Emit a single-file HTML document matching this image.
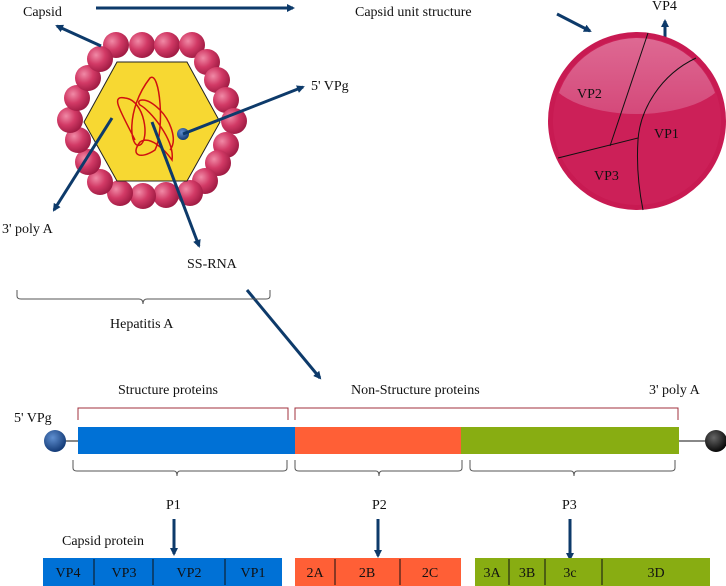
<!DOCTYPE html>
<html><head><meta charset="utf-8"><style>
html,body{margin:0;padding:0;background:#fff;width:726px;height:586px;overflow:hidden}
svg text{font-family:"Liberation Serif",serif;font-size:14px;fill:#111}
</style></head><body>
<svg width="726" height="586" viewBox="0 0 726 586" xmlns="http://www.w3.org/2000/svg">
<defs>
<marker id="ah" markerWidth="8" markerHeight="8" refX="6" refY="4" orient="auto" markerUnits="userSpaceOnUse"><path d="M0,0 L8,4 L0,8 Z" fill="#0d3a6a"/></marker>
<radialGradient id="ball" cx="0.35" cy="0.35" r="0.7"><stop offset="0" stop-color="#f08aa6"/><stop offset="0.5" stop-color="#d23a66"/><stop offset="1" stop-color="#9e1a42"/></radialGradient>
<radialGradient id="bb" cx="0.4" cy="0.35" r="0.7"><stop offset="0" stop-color="#5f8fd0"/><stop offset="1" stop-color="#0d3470"/></radialGradient>
<radialGradient id="kb" cx="0.4" cy="0.35" r="0.7"><stop offset="0" stop-color="#666"/><stop offset="1" stop-color="#000"/></radialGradient>
<linearGradient id="hl" x1="0" y1="0" x2="0" y2="1"><stop offset="0" stop-color="#e27aa0"/><stop offset="1" stop-color="#d65080"/></linearGradient>
<clipPath id="sc"><circle cx="637" cy="121" r="83"/></clipPath>
</defs>
<g fill="url(#ball)">
<circle cx="116" cy="45" r="13"/><circle cx="142" cy="45" r="13"/><circle cx="167" cy="45" r="13"/><circle cx="192" cy="45" r="13"/>
<circle cx="207" cy="62" r="13"/><circle cx="217" cy="80" r="13"/><circle cx="226" cy="100" r="13"/><circle cx="234" cy="121" r="13"/><circle cx="226" cy="145" r="13"/><circle cx="218" cy="163" r="13"/><circle cx="205" cy="181" r="13"/>
<circle cx="190" cy="193" r="13"/><circle cx="166" cy="195" r="13"/><circle cx="143" cy="196" r="13"/><circle cx="120" cy="193" r="13"/><circle cx="100" cy="182" r="13"/>
<circle cx="88" cy="162" r="13"/><circle cx="78" cy="140" r="13"/><circle cx="70" cy="120" r="13"/><circle cx="77" cy="98" r="13"/><circle cx="88" cy="78" r="13"/><circle cx="100" cy="59" r="13"/>
</g>
<polygon points="84,122 117,62 187,62 220,122 187,181 117,181" fill="#f7d832" stroke="#222" stroke-width="1"/>
<path d="M135,140 C120,110 110,95 125,98 C145,100 150,140 140,145 C130,150 125,110 150,78 C160,70 165,130 155,150 C140,160 130,155 140,142 C150,135 165,150 172,160 C175,140 150,110 140,105 C135,100 145,95 160,110 C170,120 178,140 170,150" fill="none" stroke="#d01010" stroke-width="1.5"/>
<circle cx="183" cy="134" r="6" fill="url(#bb)"/>
<g stroke="#0d3a6a" stroke-width="3" fill="none" marker-end="url(#ah)">
<line x1="96" y1="8" x2="293" y2="8"/>
<line x1="101" y1="46" x2="57" y2="26"/>
<line x1="183" y1="134" x2="303" y2="87"/>
<line x1="112" y1="118" x2="54" y2="210"/>
<line x1="152" y1="122" x2="199" y2="246"/>
<line x1="247" y1="290" x2="320" y2="378"/>
<line x1="557" y1="14" x2="590" y2="31"/>
<line x1="665" y1="54" x2="665" y2="21"/>
<line x1="174" y1="519" x2="174" y2="554"/>
<line x1="378" y1="519" x2="378" y2="556"/>
<line x1="570" y1="519" x2="570" y2="559"/>
</g>
<text x="23" y="16">Capsid</text>
<text x="355" y="16">Capsid unit structure</text>
<text x="311" y="90">5' VPg</text>
<text x="2" y="233">3' poly A</text>
<text x="187" y="268">SS-RNA</text>
<path d="M17,290 V296 Q17,299 21,299 H139 Q143,299 143,304 Q143,299 147,299 H266 Q270,299 270,296 V290" fill="none" stroke="#555" stroke-width="1"/>
<text x="110" y="328">Hepatitis A</text>
<!-- sphere -->
<circle cx="637" cy="121" r="89" fill="#c81a52"/>
<circle cx="637" cy="121" r="84" fill="#cc2058"/>
<g clip-path="url(#sc)"><ellipse cx="637" cy="72" rx="90" ry="42" fill="url(#hl)" opacity="0.85"/></g>
<g stroke="#111" stroke-width="1" fill="none">
<line x1="648" y1="33" x2="610" y2="146"/>
<path d="M696,58 C660,75 640,110 638,140 C636,170 640,195 643,210"/>
<line x1="558" y1="158" x2="638" y2="138"/>
</g>
<text x="577" y="98">VP2</text>
<text x="654" y="138">VP1</text>
<text x="594" y="180">VP3</text>
<text x="652" y="10">VP4</text>
<!-- genome -->
<text x="118" y="394">Structure proteins</text>
<text x="351" y="394">Non-Structure proteins</text>
<text x="649" y="394">3' poly A</text>
<text x="14" y="422">5' VPg</text>
<path d="M78,420 V408 H288 V420 M295,420 V408 H678 V420" fill="none" stroke="#a0303c" stroke-width="1"/>
<line x1="55" y1="441" x2="78" y2="441" stroke="#111"/>
<line x1="679" y1="441" x2="705" y2="441" stroke="#111"/>
<circle cx="55" cy="441" r="11" fill="url(#bb)"/>
<circle cx="716" cy="441" r="11" fill="url(#kb)"/>
<rect x="78" y="427" width="217" height="27" fill="#0071d6"/>
<rect x="295" y="427" width="166" height="27" fill="#ff5f36"/>
<rect x="461" y="427" width="218" height="27" fill="#88ad12"/>
<g fill="none" stroke="#555" stroke-width="1">
<path d="M73,460 V468 Q73,471 77,471 H174 Q177,471 177,476 Q177,471 180,471 H283 Q287,471 287,468 V460"/>
<path d="M295,460 V468 Q295,471 299,471 H376 Q379,471 379,476 Q379,471 382,471 H458 Q462,471 462,468 V460"/>
<path d="M470,460 V468 Q470,471 474,471 H571 Q574,471 574,476 Q574,471 577,471 H671 Q675,471 675,468 V460"/>
</g>
<text x="166" y="509">P1</text>
<text x="372" y="509">P2</text>
<text x="562" y="509">P3</text>
<text x="62" y="545">Capsid protein</text>
<rect x="43" y="558" width="239" height="28" fill="#0071d6"/>
<rect x="295" y="558" width="166" height="28" fill="#ff5f36"/>
<rect x="475" y="558" width="235" height="28" fill="#88ad12"/>
<g stroke="#111" stroke-width="1">
<line x1="94" y1="559" x2="94" y2="585"/><line x1="153" y1="559" x2="153" y2="585"/><line x1="225" y1="559" x2="225" y2="585"/>
<line x1="335" y1="559" x2="335" y2="585"/><line x1="400" y1="559" x2="400" y2="585"/>
<line x1="509" y1="559" x2="509" y2="585"/><line x1="545" y1="559" x2="545" y2="585"/><line x1="602" y1="559" x2="602" y2="585"/>
</g>
<g text-anchor="middle">
<text x="68" y="577">VP4</text><text x="124" y="577">VP3</text><text x="189" y="577">VP2</text><text x="253" y="577">VP1</text>
<text x="315" y="577">2A</text><text x="367" y="577">2B</text><text x="430" y="577">2C</text>
<text x="492" y="577">3A</text><text x="527" y="577">3B</text><text x="570" y="577">3c</text><text x="656" y="577">3D</text>
</g>
</svg>
</body></html>
